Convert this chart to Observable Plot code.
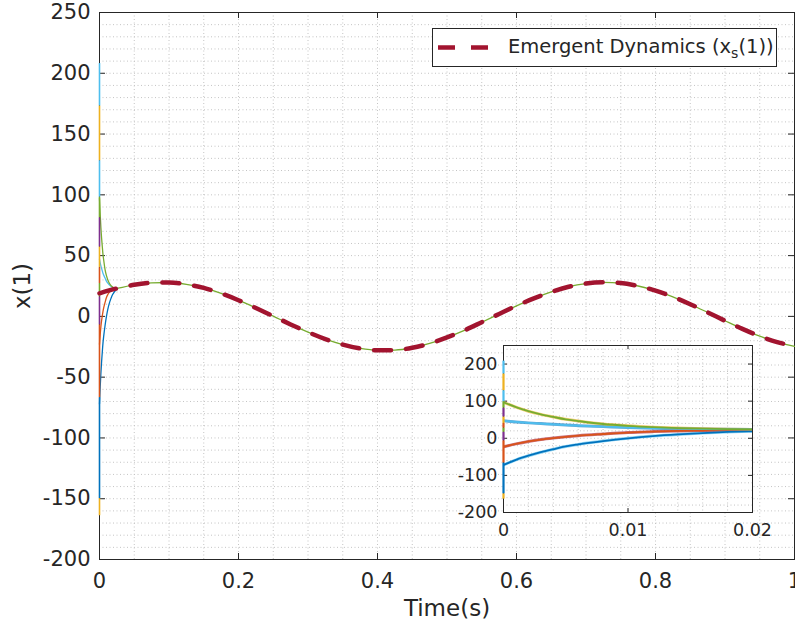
<!DOCTYPE html>
<html><head><meta charset="utf-8">
<script src="https://cdn.jsdelivr.net/npm/d3@7"></script>
<script src="https://cdn.jsdelivr.net/npm/@observablehq/plot@0.6"></script>
<style>
html,body{margin:0;padding:0;background:#fff;}
#wrap{position:relative;width:795px;height:628px;overflow:hidden;font-family:"DejaVu Sans",sans-serif;}
#main{position:absolute;left:0;top:0;}
#inset{position:absolute;left:443px;top:340px;}
#legend{position:absolute;left:432px;top:28px;width:343px;height:37px;border:1px solid #262626;background:#fff;}
#legend span{position:absolute;left:75px;top:6px;font-size:19.5px;color:#262626;white-space:nowrap;line-height:24px;}
#legend sub{font-size:0.72em;vertical-align:-0.35em;line-height:0;}
</style></head><body>
<div id="wrap"><div id="main"></div><div id="inset"></div>
<div id="legend"><svg width="70" height="37" style="position:absolute;left:0;top:0"><line x1="5" x2="56" y1="18.5" y2="18.5" stroke="#A2142F" stroke-width="4.5" stroke-dasharray="17,16"/></svg><span>Emergent Dynamics (x<sub>s</sub>(1))</span></div>
</div>
<script>
// ---------- data ----------
const agentNames = ["Agent 1","Agent 2","Agent 3","Agent 4","Agent 5","Agent 6","Agent 7"];
const emergentT = [0,0.025,0.05,0.075,0.1,0.125,0.15,0.175,0.2,0.225,0.25,0.275,0.3,0.325,0.35,0.375,0.4,0.425,0.45,0.475,0.5,0.525,0.55,0.575,0.6,0.625,0.65,0.675,0.7,0.725,0.75,0.775,0.8,0.825,0.85,0.875,0.9,0.925,0.95,0.975,1];
const emergentX = [19,23,26,27.6,27.9,26.4,23.4,18.9,13.3,6.9,0.2,-6.6,-13,-18.7,-23.2,-26.4,-27.9,-27.7,-25.8,-22.3,-17.3,-11.5,-4.8,2,8.7,14.8,20.1,24.4,27,28,27.4,25,21.2,16.1,10,3.3,-3.6,-10.3,-16.3,-21.1,-24.6];

const transientT = [0,0.001,0.002,0.003,0.004,0.005,0.006,0.008,0.010,0.012,0.014,0.016,0.018,0.020,0.025];
const agentGreen     = [97,84,73,64.5,57.5,51,46.5,38.5,33.5,30,27.5,25.8,24.6,23.8,23];
const agentLightBlue = [47,44,41.5,39.5,37.5,35.5,34,31.5,29,27.3,26,25,24.2,23.6,23];
const agentOrange    = [-23,-15,-8.5,-3.5,0.5,4,7,11.5,15.5,18,19.8,21,22,22.5,23];
const agentBlue      = [-72,-58,-47,-37.5,-29.5,-22,-16.5,-7.5,0,6,10.5,14,17,19,22.5];

// initial jumps at t = 0 (from initial value to start of transient)
const jumpTop    = [208,173,128,98,81,57,40,27,16,-7,-67,-150];
const jumpBottom = [173,128,98,81,57,40,27,16,-7,-67,-150,-164];
const jumpAgent  = ["Agent 6","Agent 3","Agent 6","Agent 5","Agent 4","Agent 3","Agent 2","Agent 5","Agent 4","Agent 2","Agent 1","Agent 3"];

const mainTicksX = [0,0.2,0.4,0.6,0.8,1];
const mainTicksY = [-200,-150,-100,-50,0,50,100,150,200,250];
const insetTicksX = [0,0.01,0.02];
const insetTicksY = [-200,-100,0,100,200];
const xLabel = "Time(s)";
const yLabel = "x(1)";

// ---------- styling ----------
const palette = ["#0072BD","#D95319","#EDB120","#7E2F8E","#77AC30","#4DBEEE","#A2142F"];
const emergentColor = "#A2142F";
const axisColor = "#262626";

// ---------- build rows ----------
const emergentRows = emergentT.map((t,i)=>({t, v: emergentX[i]}));
const series = [["Agent 1",agentBlue],["Agent 2",agentOrange],["Agent 6",agentLightBlue],["Agent 5",agentGreen]];
const transientRows = [];
for (const [agent, vals] of series) vals.forEach((v,i)=>transientRows.push({agent, t: transientT[i], v}));
const jumps = jumpTop.map((y1,i)=>({t: transientT[0], y1, y2: jumpBottom[i], agent: jumpAgent[i]}));
const consensusRows = emergentRows.filter(d => d.t >= transientT[transientT.length-1]);
// inset halo pairing
const haloOf = {"Agent 5":"Agent 3","Agent 6":"Agent 1","Agent 2":"Agent 7","Agent 1":"Agent 6"};
const haloRows = transientRows.map(d => ({...d, agent: haloOf[d.agent], key: d.agent}));

const fmt = d => String(d);

// ---------- main plot ----------
const W=795, H=628, ML=99, MR=1, MT=12, MB=69;
const pw = W-ML-MR, ph = H-MT-MB, tl = 6;
const minorX = d3.range(0, 1.0001, 0.05);
const minorY = d3.range(-200, 250.01, 10);

const mainFig = Plot.plot({
  width: W, height: H, marginLeft: ML, marginRight: MR, marginTop: MT, marginBottom: MB,
  style: {fontFamily: "DejaVu Sans", fontSize: "21px", color: axisColor, background: "white", overflow: "visible"},
  x: {domain: [0,1]},
  y: {domain: [-200,250]},
  color: {domain: agentNames, range: palette},
  marks: [
    Plot.ruleX(minorX, {stroke: "#c4c4c4", strokeDasharray: "1,2.5", strokeWidth: 1}),
    Plot.ruleY(minorY, {stroke: "#c4c4c4", strokeDasharray: "1,2.5", strokeWidth: 1}),
    Plot.frame({stroke: axisColor, strokeWidth: 1}),
    Plot.ruleY(mainTicksY, {insetRight: pw - tl, stroke: axisColor}),
    Plot.ruleY(mainTicksY, {insetLeft: pw - tl, stroke: axisColor}),
    Plot.ruleX(mainTicksX, {insetTop: ph - tl, stroke: axisColor}),
    Plot.ruleX(mainTicksX, {insetBottom: ph - tl, stroke: axisColor}),
    Plot.line(transientRows, {x: "t", y: "v", z: "agent", stroke: "agent", strokeWidth: 1.3, curve: "monotone-x"}),
    Plot.line(consensusRows, {x: "t", y: "v", stroke: palette[4], strokeWidth: 1.3, curve: "monotone-x"}),
    Plot.ruleX(jumps, {x: "t", y1: "y1", y2: "y2", stroke: "agent", strokeWidth: 1.6}),
    Plot.line(emergentRows, {x: "t", y: "v", stroke: emergentColor, strokeWidth: 4.5, strokeDasharray: "17,15", curve: "monotone-x"}),
    Plot.axisX(mainTicksX, {tickSize: 0, tickPadding: 14, tickFormat: fmt, label: null}),
    Plot.axisY(mainTicksY, {tickSize: 0, tickPadding: 9, tickFormat: fmt, label: null}),
    Plot.text([yLabel], {text: d => d, frameAnchor: "left", dx: -77, rotate: -90, fontSize: 23, textAnchor: "middle", lineAnchor: "middle"}),
    Plot.text([xLabel], {text: d => d, frameAnchor: "bottom", dy: 49, fontSize: 23, textAnchor: "middle", lineAnchor: "middle"})
  ]
});
document.getElementById("main").appendChild(mainFig);

// ---------- inset ----------
const IML=60, IMR=5, IMT=5, IMB=30, IW=IML+249+IMR, IH=IMT+167+IMB;
const ipw = IW-IML-IMR, iph = IH-IMT-IMB, itl = 4;
const iMinorX = d3.range(0, 0.02001, 0.002);
const iMinorY = d3.range(-200, 250.01, 20);
const insetFig = Plot.plot({
  width: IW, height: IH, marginLeft: IML, marginRight: IMR, marginTop: IMT, marginBottom: IMB,
  style: {fontFamily: "DejaVu Sans", fontSize: "17.5px", color: axisColor, background: "transparent", overflow: "visible"},
  x: {domain: [0,0.02]},
  y: {domain: [-200,250]},
  color: {domain: agentNames, range: palette},
  marks: [
    Plot.frame({fill: "white", stroke: null}),
    Plot.ruleX(iMinorX, {stroke: "#c4c4c4", strokeDasharray: "1,2.5", strokeWidth: 1}),
    Plot.ruleY(iMinorY, {stroke: "#c4c4c4", strokeDasharray: "1,2.5", strokeWidth: 1}),
    Plot.frame({stroke: axisColor, strokeWidth: 1}),
    Plot.ruleY(insetTicksY, {insetRight: ipw - itl, stroke: axisColor}),
    Plot.ruleY(insetTicksY, {insetLeft: ipw - itl, stroke: axisColor}),
    Plot.ruleX(insetTicksX, {insetTop: iph - itl, stroke: axisColor}),
    Plot.ruleX(insetTicksX, {insetBottom: iph - itl, stroke: axisColor}),
    Plot.line(haloRows, {x: "t", y: "v", z: "key", stroke: "agent", strokeWidth: 3, strokeOpacity: 0.6, curve: "monotone-x", clip: true}),
    Plot.line(transientRows, {x: "t", y: "v", z: "agent", stroke: "agent", strokeWidth: 1.8, curve: "monotone-x", clip: true}),
    Plot.ruleX(jumps, {x: "t", y1: "y1", y2: "y2", stroke: "agent", strokeWidth: 2.2}),
    Plot.axisX(insetTicksX, {tickSize: 0, tickPadding: 11, tickFormat: fmt, label: null}),
    Plot.axisY(insetTicksY, {tickSize: 0, tickPadding: 6, tickFormat: fmt, label: null})
  ]
});
document.getElementById("inset").appendChild(insetFig);
</script></body></html>
